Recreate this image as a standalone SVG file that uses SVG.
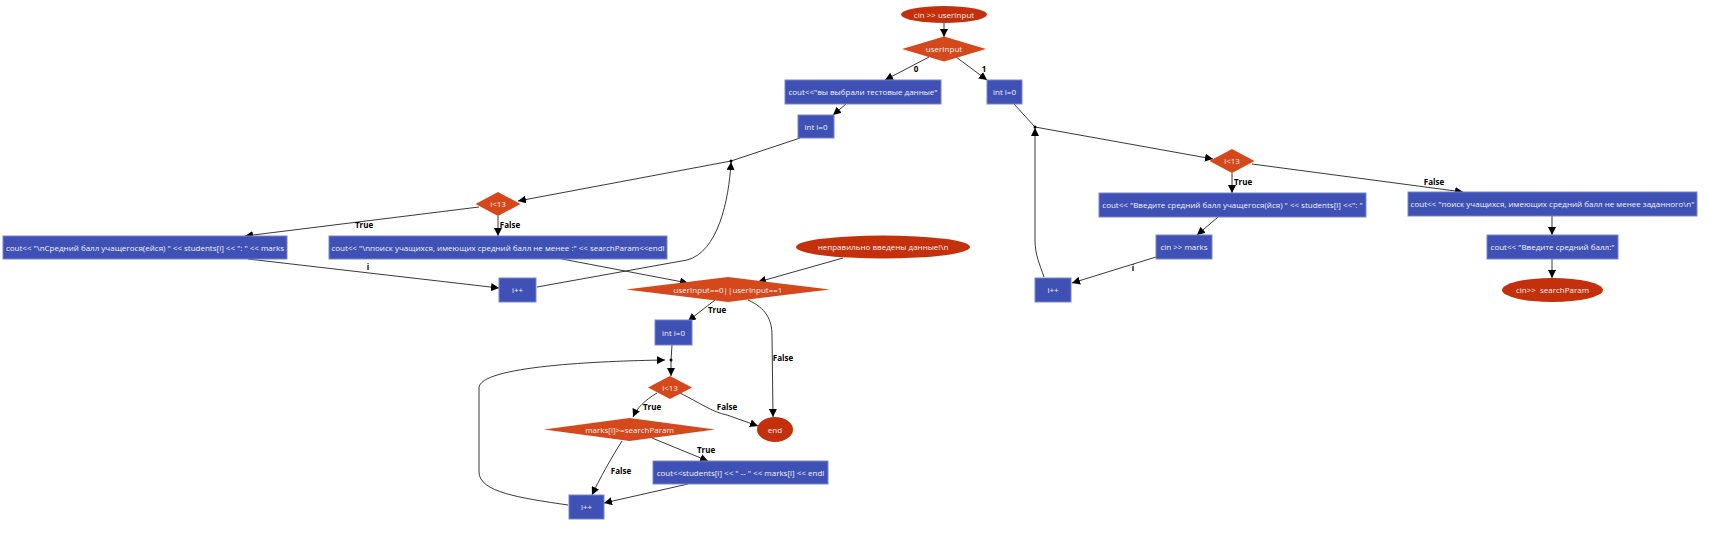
<svg xmlns="http://www.w3.org/2000/svg" width="1714" height="536" viewBox="0 0 1714 536">
<defs>
<marker id="ah" viewBox="0 0 10 10" refX="10" refY="5" markerWidth="8" markerHeight="8" markerUnits="userSpaceOnUse" orient="auto">
<path d="M0,0 L10,5 L0,10 z" fill="#000"/>
</marker>
<style>
.box{fill:#3F51B5;stroke:#7986CB;stroke-width:1}
.dia{fill:#D4481C}
.ell{fill:#C3300B}
.nt{font-family:"Open Sans","Liberation Sans",sans-serif;font-size:8px;fill:#F2F2F2;text-anchor:middle;white-space:pre}
.e{fill:none;stroke:#222;stroke-width:0.9}
.a{marker-end:url(#ah)}
.lb{font-family:"Open Sans","Liberation Sans",sans-serif;font-size:8px;font-weight:bold;fill:#000;text-anchor:middle}
.jn{fill:#000}
</style>
</defs>
<rect width="1714" height="536" fill="#fff"/>
<g id="connectors">
<path class="e a" d="M944,23 L944,37"/>
<path class="e a" d="M929,57 L885,80"/>
<text class="lb" x="916" y="72">0</text>
<path class="e a" d="M956,57 L987,80"/>
<text class="lb" x="984" y="72">1</text>
<path class="e a" d="M846,104 L833,115"/>
<path class="e" d="M800,138 L731,161"/>
<path class="e a" d="M731,161 L518,201"/>
<path class="e a" d="M479,207 L245,236"/>
<text class="lb" x="364" y="228">True</text>
<path class="e a" d="M498,216 L498,236"/>
<text class="lb" x="510" y="228">False</text>
<path class="e a" d="M248,259 L499,288"/>
<text class="lb" x="368" y="270">i</text>
<path class="e a" d="M537,287 L687,260 C718,252 729,200 731,162"/>
<path class="e a" d="M562,259 L688,283"/>
<path class="e a" d="M843,258 L758,282"/>
<path class="e a" d="M715,300 L688,321"/>
<text class="lb" x="717" y="313">True</text>
<path class="e a" d="M748,300 C766,308 772,320 772,335 L773,417"/>
<text class="lb" x="783" y="361">False</text>
<path class="e" d="M672,345 L671,360"/>
<path class="e a" d="M671,360 L671,376"/>
<path class="e a" d="M568,505 C520,498 479,492 479,472 L479,388 C479,366 600,361 665,360"/>
<path class="e a" d="M657,393 C645,400 637,408 633,417"/>
<text class="lb" x="652" y="410">True</text>
<path class="e a" d="M680,393 C700,403 712,412 727,415 L758,426"/>
<text class="lb" x="727" y="410">False</text>
<path class="e a" d="M652,438 L708,461"/>
<text class="lb" x="706" y="453">True</text>
<path class="e a" d="M622,441 C610,460 600,478 592,495"/>
<text class="lb" x="621" y="474">False</text>
<path class="e a" d="M688,484 L604,503"/>
<path class="e" d="M1014,104 L1035,127"/>
<path class="e a" d="M1035,127 L1213,159"/>
<path class="e a" d="M1232,173 L1232,193"/>
<text class="lb" x="1243" y="185">True</text>
<path class="e a" d="M1252,164 L1463,192"/>
<text class="lb" x="1434" y="185">False</text>
<path class="e a" d="M1218,217 L1197,235"/>
<path class="e a" d="M1156,257 L1072,283"/>
<text class="lb" x="1133" y="271">i</text>
<path class="e a" d="M1044,277 C1040,265 1035,255 1035,240 L1035,128"/>
<path class="e a" d="M1552,216 L1552,235"/>
<path class="e a" d="M1552,259 L1552,278"/>
<circle class="jn" cx="731" cy="161" r="1.5"/>
<circle class="jn" cx="1035" cy="127" r="1.5"/>
<circle class="jn" cx="671" cy="360" r="1.5"/>
</g>
<g id="n_cin"><ellipse class="ell" cx="944" cy="14.5" rx="43" ry="8.5"/><text class="nt" x="944" y="17.5">cin &gt;&gt; userInput</text></g>
<g id="n_sw"><polygon class="dia" points="902,49 944,36.5 986,49 944,61.5"/><text class="nt" x="944" y="52">userInput</text></g>
<g id="n_test"><rect class="box" x="785" y="80" width="156" height="24"/><text class="nt" x="863" y="95">cout&lt;&lt;"вы выбрали тестовые данные"</text></g>
<g id="n_i0a"><rect class="box" x="798" y="115" width="36" height="23"/><text class="nt" x="816" y="129.5">int i=0</text></g>
<g id="n_c1"><polygon class="dia" points="475.5,204 498,192 520.5,204 498,216"/><text class="nt" x="498" y="207">i&lt;13</text></g>
<g id="n_out1"><rect class="box" x="3" y="236" width="284" height="23"/><text class="nt" x="145" y="250.5">cout&lt;&lt; "\nСредний балл учащегося(ейся) " &lt;&lt; students[i] &lt;&lt; ": " &lt;&lt; marks</text></g>
<g id="n_out2"><rect class="box" x="329" y="236" width="338" height="23"/><text class="nt" x="498" y="250.5">cout&lt;&lt; "\nпоиск учащихся, имеющих средний балл не менее :" &lt;&lt; searchParam&lt;&lt;endl</text></g>
<g id="n_inc1"><rect class="box" x="499" y="278" width="37" height="24"/><text class="nt" x="517.5" y="293">i++</text></g>
<g id="n_err"><ellipse class="ell" cx="883" cy="247" rx="87" ry="11.5"/><text class="nt" x="883" y="250">неправильно введены данные!\n</text></g>
<g id="n_chk"><polygon class="dia" points="626,289.5 728,277 830,289.5 728,302"/><text class="nt" x="728" y="292.5">userInput==0||userInput==1</text></g>
<g id="n_i0c"><rect class="box" x="655" y="320" width="37" height="25"/><text class="nt" x="673.5" y="335.5">int i=0</text></g>
<g id="n_c3"><polygon class="dia" points="648,387.5 670,376 692,387.5 670,399"/><text class="nt" x="670" y="390.5">i&lt;13</text></g>
<g id="n_marks"><polygon class="dia" points="544,429.5 629.5,418 715,429.5 629.5,441"/><text class="nt" x="629.5" y="432.5">marks[i]&gt;=searchParam</text></g>
<g id="n_end"><ellipse class="ell" cx="775" cy="429.5" rx="18" ry="12.5"/><text class="nt" x="775" y="432.5">end</text></g>
<g id="n_prt"><rect class="box" x="653" y="461" width="175" height="23"/><text class="nt" x="740.5" y="475.5">cout&lt;&lt;students[i] &lt;&lt; " -- " &lt;&lt; marks[i] &lt;&lt; endl</text></g>
<g id="n_inc3"><rect class="box" x="569" y="495" width="35" height="24"/><text class="nt" x="586.5" y="510">i++</text></g>
<g id="n_i0b"><rect class="box" x="987" y="80" width="35" height="24"/><text class="nt" x="1004.5" y="95">int i=0</text></g>
<g id="n_c2"><polygon class="dia" points="1209.5,161 1232,149 1254.5,161 1232,173"/><text class="nt" x="1232" y="164">i&lt;13</text></g>
<g id="n_ask"><rect class="box" x="1099" y="193" width="267" height="24"/><text class="nt" x="1232.5" y="208">cout&lt;&lt; "Введите средний балл учащегося(йся) " &lt;&lt; students[i] &lt;&lt;": "</text></g>
<g id="n_cinm"><rect class="box" x="1156" y="235" width="56" height="24"/><text class="nt" x="1184" y="250">cin &gt;&gt; marks</text></g>
<g id="n_inc2"><rect class="box" x="1035" y="278" width="36" height="24"/><text class="nt" x="1053" y="293">i++</text></g>
<g id="n_find"><rect class="box" x="1408" y="192" width="289" height="24"/><text class="nt" x="1552.5" y="207">cout&lt;&lt; "поиск учащихся, имеющих средний балл не менее заданного\n"</text></g>
<g id="n_askp"><rect class="box" x="1487" y="235" width="131" height="24"/><text class="nt" x="1552.5" y="250">cout&lt;&lt; "Введите средний балл:"</text></g>
<g id="n_cinp"><ellipse class="ell" cx="1552.5" cy="290" rx="50.5" ry="12"/><text class="nt" x="1552.5" y="293">cin&gt;&gt;  searchParam</text></g>
</svg>
